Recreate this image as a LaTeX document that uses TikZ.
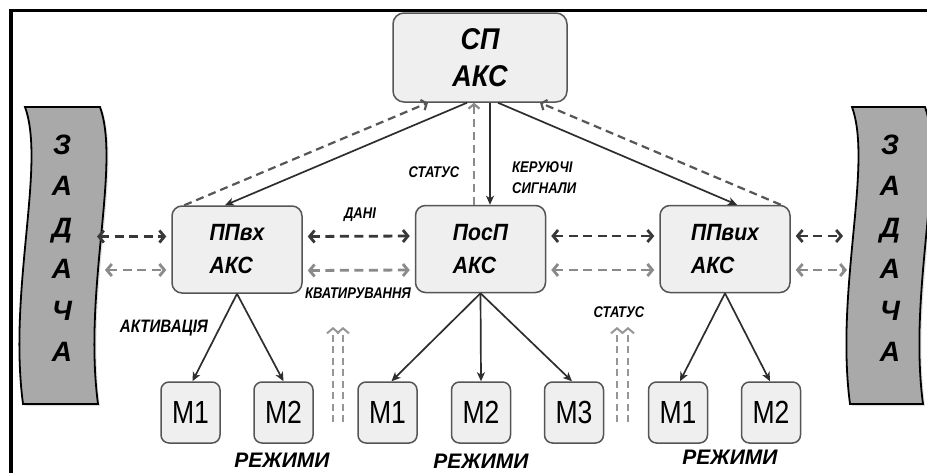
\documentclass[tikz,border=0pt]{standalone}
\usepackage{fontspec}
\setmainfont{Liberation Sans}
\newfontfamily\condf{Liberation Sans}[FakeStretch=0.9]
\newfontfamily\lblf{Liberation Sans}[FakeStretch=0.84]
\newfontfamily\mfontf{Liberation Sans}[FakeStretch=0.83]
\usetikzlibrary{arrows.meta,shadows}
\definecolor{boxfill}{HTML}{EFEFEF}
\definecolor{boxline}{HTML}{555555}
\definecolor{bannerfill}{HTML}{A9A9A9}
\definecolor{dkdash}{HTML}{383838}
\definecolor{gydash}{HTML}{8A8A8A}
\definecolor{arrowc}{HTML}{2E2E2E}
\tikzset{
  bigbox/.style={draw=boxline, line width=1.5pt, fill=boxfill, rounded corners=11pt,
    inner sep=0pt, align=center, minimum width=174pt, minimum height=89pt,
    font=\condf\bfseries\itshape\fontsize{30}{36.5}\selectfont},
  midbox/.style={draw=boxline, line width=1.5pt, fill=boxfill, rounded corners=10pt,
    inner sep=0pt, align=left, minimum width=130pt, minimum height=87pt,
    font=\condf\bfseries\itshape\fontsize{23.5}{33}\selectfont},
  mbox/.style={draw=boxline, line width=1.5pt, fill=boxfill, rounded corners=8pt,
    inner sep=0pt, minimum width=59pt, minimum height=61pt,
    font=\mfontf\fontsize{32}{36}\selectfont},
  banner/.style={draw=black, line width=1.8pt, fill=bannerfill,
    drop shadow={opacity=0.25, shadow xshift=2pt, shadow yshift=-2pt}},
  bannertext/.style={align=center, inner sep=0pt,
    font=\bfseries\itshape\fontsize{28}{41.5}\selectfont},
  lbl/.style={inner sep=0pt, font=\lblf\bfseries\itshape\fontsize{15.5}{21}\selectfont},
  rez/.style={inner sep=0pt, font=\bfseries\itshape\fontsize{21}{24}\selectfont},
  solidarr/.style={draw=arrowc, line width=1.7pt, -{Stealth[length=9pt,width=8pt,inset=2.5pt]}},
  diagdash/.style={draw=dkdash!85, line width=2.2pt, dash pattern=on 8pt off 5pt,
    -{Straight Barb[length=4.5pt,width=11pt]}},
  vdash/.style={draw=gydash, line width=2.2pt, dash pattern=on 8pt off 5pt,
    -{Straight Barb[length=4.5pt,width=11pt]}},
  hdark/.style={draw=dkdash, line width=2.8pt, dash pattern=on 9pt off 5.5pt,
    {Straight Barb[length=5pt,width=12pt]}-{Straight Barb[length=5pt,width=12pt]}},
  hgray/.style={draw=gydash, line width=2.8pt, dash pattern=on 9pt off 5.5pt,
    {Straight Barb[length=5pt,width=12pt]}-{Straight Barb[length=5pt,width=12pt]}},
  stdash/.style={draw=gydash!90, line width=2pt, dash pattern=on 7pt off 4.5pt,
    -{Straight Barb[length=5pt,width=12pt]}}
}
\begin{document}
\begin{tikzpicture}[x=1pt,y=-1pt]
\useasboundingbox (0,0) rectangle (927,472);
\fill[white] (0,0) rectangle (927,472);
% frame
\draw[line width=3.5pt] (11,480) -- (11,10.5) -- (935,10.5);

% banners
\path[banner] (25,107) -- (100,107) .. controls (121,165) and (83,290) .. (98,404)
  -- (23,404) .. controls (8,290) and (46,165) .. (25,107) -- cycle;
\path[banner] (852,107) -- (925,107) .. controls (946,165) and (908,290) .. (923,404)
  -- (850,404) .. controls (835,290) and (873,165) .. (852,107) -- cycle;
\node[bannertext] (zl) at (62,248) {З\\А\\Д\\А\\Ч\\А};
\node[bannertext] (zr) at (890,248) {З\\А\\Д\\А\\Ч\\А};

% main boxes
\node[bigbox] (sp) at (480,57.5) {СП\\АКС};
\node[midbox] (ppvh) at (237,249.5) {ППвх\\АКС};
\node[midbox] (posp) at (480.5,249) {ПосП\\АКС};
\node[midbox] (ppvyh) at (725,249) {ППвих\\АКС};

% mode boxes
\node[mbox] (a1) at (190.5,412.5) {M1};
\node[mbox] (a2) at (283.5,412.5) {M2};
\node[mbox] (b1) at (387.5,412.5) {M1};
\node[mbox] (b2) at (481,412.5) {M2};
\node[mbox] (b3) at (574,412.5) {M3};
\node[mbox] (c1) at (678,412.5) {M1};
\node[mbox] (c2) at (771,412.5) {M2};

% top connections
\draw[diagdash] ([xshift=13pt]ppvh.north west) -- ([xshift=-52pt]sp.south);
\draw[solidarr] ([xshift=-13pt]sp.south) -- ([xshift=-12pt]ppvh.north);
\draw[solidarr] ([xshift=18pt]sp.south) -- ([xshift=12pt]ppvyh.north);
\draw[diagdash] ([xshift=-10pt]ppvyh.north east) -- ([xshift=60pt]sp.south);
\draw[solidarr] ([xshift=10pt]sp.south) -- ([xshift=9.5pt]posp.north);
\draw[vdash] ([xshift=-6.5pt]posp.north) -- ([xshift=-6pt]sp.south);

% horizontal exchanges
\coordinate (zlA) at (97,236.5);
\coordinate (zlB) at (105,270);
\coordinate (zrA) at (843,236);
\coordinate (zrB) at (847,270);
\draw[hdark] (zlA) -- ([xshift=-5pt,yshift=13pt]ppvh.west);
\draw[hgray] (zlB) -- ([xshift=-5pt,yshift=-20.5pt]ppvh.west);
\draw[hdark] ([xshift=5pt,yshift=13pt]ppvh.east) -- ([xshift=-5pt,yshift=13pt]posp.west);
\draw[hgray] ([xshift=5pt,yshift=-21pt]ppvh.east) -- ([xshift=-5pt,yshift=-21pt]posp.west);
\draw[hdark] ([xshift=5pt,yshift=13pt]posp.east) -- ([xshift=-5pt,yshift=13pt]ppvyh.west);
\draw[hgray] ([xshift=5pt,yshift=-21pt]posp.east) -- ([xshift=-5pt,yshift=-21pt]ppvyh.west);
\draw[hdark] ([xshift=5pt,yshift=13pt]ppvyh.east) -- (zrA);
\draw[hgray] ([xshift=5pt,yshift=-21pt]ppvyh.east) -- (zrB);

% activation arrows
\draw[solidarr] (ppvh.south) -- ([xshift=2pt]a1.north);
\draw[solidarr] (ppvh.south) -- (a2.north);
\draw[solidarr] (posp.south) -- ([xshift=4pt]b1.north);
\draw[solidarr] (posp.south) -- (b2.north);
\draw[solidarr] (posp.south) -- ([xshift=-2pt]b3.north);
\draw[solidarr] (ppvyh.south) -- ([xshift=2pt]c1.north);
\draw[solidarr] (ppvyh.south) -- ([xshift=-1pt]c2.north);

% status arrows (bottom)
\coordinate (s1a) at (333,422); \coordinate (s1at) at (333,327);
\coordinate (s1b) at (343,422); \coordinate (s1bt) at (343,327);
\coordinate (s2a) at (617,422); \coordinate (s2at) at (617,327);
\coordinate (s2b) at (628,422); \coordinate (s2bt) at (628,327);
\draw[stdash] (s1a) -- (s1at);
\draw[stdash] (s1b) -- (s1bt);
\draw[stdash] (s2a) -- (s2at);
\draw[stdash] (s2b) -- (s2bt);

% labels
\node[lbl] (dani) at (360,215) {ДАНІ};
\node[lbl] (kvat) at (358,293) {КВАТИРУВАННЯ};
\node[lbl] (stat1) at (434,172) {СТАТУС};
\node[lbl, anchor=west, align=left] (ker) at (512,177.5) {КЕРУЮЧІ\\СИГНАЛИ};
\node[lbl, font=\lblf\bfseries\itshape\fontsize{18}{20}\selectfont] (akt) at (164,328) {АКТИВАЦІЯ};
\node[lbl] (stat2) at (619,312) {СТАТУС};
\node[rez] (r1) at (282,460) {РЕЖИМИ};
\node[rez] (r2) at (481,461) {РЕЖИМИ};
\node[rez] (r3) at (730,457) {РЕЖИМИ};
\end{tikzpicture}
\end{document}
